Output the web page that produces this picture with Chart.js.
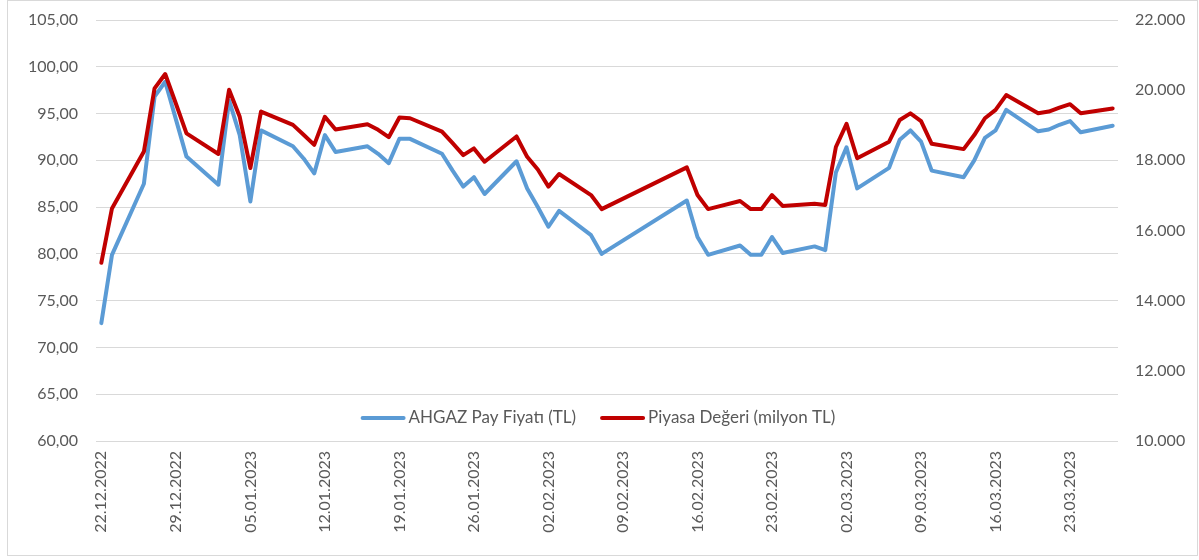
<!DOCTYPE html>
<html>
<head>
<meta charset="utf-8">
<script src="https://cdn.jsdelivr.net/npm/chart.js@4"></script>
<style>
  html, body { margin: 0; padding: 0; background: #fff; }
  canvas { display: block; }
</style>
</head>
<body>
<canvas id="c" width="1199" height="560"></canvas>
<script>
const tickLabels = ['22.12.2022','29.12.2022','05.01.2023','12.01.2023','19.01.2023','26.01.2023','02.02.2023','09.02.2023','16.02.2023','23.02.2023','02.03.2023','09.03.2023','16.03.2023','23.03.2023'];

const dates = ['22.12.2022','23.12.2022','26.12.2022','27.12.2022','28.12.2022','29.12.2022','30.12.2022',
  '02.01.2023','03.01.2023','04.01.2023','05.01.2023','06.01.2023','09.01.2023','10.01.2023','11.01.2023','12.01.2023','13.01.2023',
  '16.01.2023','17.01.2023','18.01.2023','19.01.2023','20.01.2023','23.01.2023','24.01.2023','25.01.2023','26.01.2023','27.01.2023',
  '30.01.2023','31.01.2023','01.02.2023','02.02.2023','03.02.2023','06.02.2023','07.02.2023','15.02.2023','16.02.2023','17.02.2023',
  '20.02.2023','21.02.2023','22.02.2023','23.02.2023','24.02.2023','27.02.2023','28.02.2023','01.03.2023','02.03.2023','03.03.2023',
  '06.03.2023','07.03.2023','08.03.2023','09.03.2023','10.03.2023','13.03.2023','14.03.2023','15.03.2023','16.03.2023','17.03.2023',
  '20.03.2023','21.03.2023','22.03.2023','23.03.2023','24.03.2023','27.03.2023'];

const price = [72.6,79.9,87.5,96.8,98.4,94.4,90.4,
  87.4,96.4,92.7,85.6,93.2,91.5,90.2,88.6,92.7,90.9,
  91.5,90.7,89.7,92.3,92.3,90.7,88.9,87.2,88.2,86.4,
  89.9,87.0,85.0,82.9,84.6,82.0,80.0,85.7,81.8,79.9,
  80.9,79.9,79.9,81.8,80.1,80.8,80.4,88.7,91.4,87.0,
  89.2,92.2,93.2,92.0,88.9,88.2,90.0,92.4,93.2,95.4,
  93.1,93.3,93.8,94.2,93.0,93.7];

const marketValue = [15080,16630,18250,20050,20460,19620,18770,
  18180,20010,19240,17780,19390,19010,18730,18440,19240,18880,
  19030,18870,18660,19220,19200,18820,18490,18150,18340,17960,
  18680,18100,17740,17250,17610,17010,16610,17800,17010,16610,
  16840,16610,16610,17010,16700,16760,16730,18380,19040,18060,
  18530,19150,19340,19120,18470,18320,18720,19200,19440,19860,
  19340,19390,19500,19600,19340,19480];

const seriesNames = ['AHGAZ Pay Fiyatı (TL)', 'Piyasa Değeri (milyon TL)'];

function dayIndex(s) {
  const [d, m, y] = s.split('.').map(Number);
  return Math.round((Date.UTC(y, m - 1, d) - Date.UTC(2022, 11, 22)) / 86400000);
}

const FONT = 'Lato';
const TEXT = '#595959';
const GRID = '#d9d9d9';

const bgPlugin = {
  id: 'bg',
  beforeDraw(chart) {
    const ctx = chart.ctx;
    ctx.save();
    ctx.fillStyle = '#fff';
    ctx.fillRect(0, 0, chart.width, chart.height);
    ctx.strokeStyle = GRID;
    ctx.lineWidth = 1;
    ctx.strokeRect(7.5, 0.5, 1190, 555);
    ctx.restore();
  }
};

const legendPlugin = {
  id: 'inLegend',
  afterDraw(chart) {
    const ctx = chart.ctx;
    ctx.save();
    ctx.font = '17px ' + FONT;
    const sample = 45, gap = 3, itemGap = 24;
    const ds = [chart.data.datasets[0], chart.data.datasets[1]];
    const widths = ds.map(d => sample + gap + ctx.measureText(d.label).width);
    const total = widths[0] + widths[1] + itemGap;
    let x = 598 - total / 2;
    const y = 418;
    ds.forEach((d, i) => {
      ctx.strokeStyle = d.borderColor;
      ctx.lineWidth = 4;
      ctx.lineCap = 'round';
      ctx.beginPath();
      ctx.moveTo(x + 2, y);
      ctx.lineTo(x + sample - 2, y);
      ctx.stroke();
      ctx.fillStyle = TEXT;
      ctx.textBaseline = 'middle';
      ctx.textAlign = 'left';
      ctx.fillText(d.label, x + sample + gap, y);
      x += widths[i] + itemGap;
    });
    ctx.restore();
  }
};

function noVPad(scale) {
  scale.paddingTop = 0;
  scale.paddingBottom = 0;
}

new Chart(document.getElementById('c'), {
  type: 'line',
  data: {
    datasets: [
      {
        label: seriesNames[0],
        data: dates.map((d, i) => ({ x: dayIndex(d), y: price[i] })),
        borderColor: '#5B9BD5',
        backgroundColor: '#5B9BD5',
        borderWidth: 4,
        pointRadius: 0,
        tension: 0,
        borderJoinStyle: 'round',
        borderCapStyle: 'round',
        yAxisID: 'y',
        order: 2
      },
      {
        label: seriesNames[1],
        data: dates.map((d, i) => ({ x: dayIndex(d), y: marketValue[i] })),
        borderColor: '#C00000',
        backgroundColor: '#C00000',
        borderWidth: 4,
        pointRadius: 0,
        tension: 0,
        borderJoinStyle: 'round',
        borderCapStyle: 'round',
        yAxisID: 'y2',
        order: 1
      }
    ]
  },
  options: {
    responsive: false,
    animation: false,
    devicePixelRatio: 1,
    layout: { padding: { top: 20, left: 0, right: 0, bottom: 0 } },
    plugins: {
      legend: { display: false },
      tooltip: { enabled: false }
    },
    scales: {
      x: {
        type: 'linear',
        min: -0.5,
        max: 95.5,
        afterBuildTicks(scale) {
          scale.ticks = tickLabels.map((_, i) => ({ value: i * 7 }));
        },
        afterFit(scale) { scale.height = 119; },
        grid: { display: false, drawTicks: false },
        border: { display: false },
        ticks: {
          autoSkip: false,
          maxRotation: 90,
          minRotation: 90,
          padding: 10,
          color: TEXT,
          font: { family: FONT, size: 16 },
          callback: (v) => tickLabels[Math.round(v / 7)]
        }
      },
      y: {
        position: 'left',
        min: 60,
        max: 105,
        afterBuildTicks(scale) {
          const t = [];
          for (let v = 60; v <= 105; v += 5) t.push({ value: v });
          scale.ticks = t;
        },
        afterFit(scale) { scale.width = 96; noVPad(scale); },
        grid: { color: GRID, lineWidth: 1, drawTicks: false },
        border: { display: false },
        ticks: {
          padding: 18,
          color: TEXT,
          font: { family: FONT, size: 16 },
          callback: (v) => v.toFixed(2).replace('.', ',')
        }
      },
      y2: {
        position: 'right',
        min: 10000,
        max: 22000,
        afterBuildTicks(scale) {
          const t = [];
          for (let v = 10000; v <= 22000; v += 2000) t.push({ value: v });
          scale.ticks = t;
        },
        afterFit(scale) { scale.width = 81; noVPad(scale); },
        grid: { drawOnChartArea: false, drawTicks: false },
        border: { display: false },
        ticks: {
          padding: 17,
          color: TEXT,
          font: { family: FONT, size: 16 },
          callback: (v) => String(v / 1000) + '.000'
        }
      }
    }
  },
  plugins: [bgPlugin, legendPlugin]
});
</script>
</body>
</html>
